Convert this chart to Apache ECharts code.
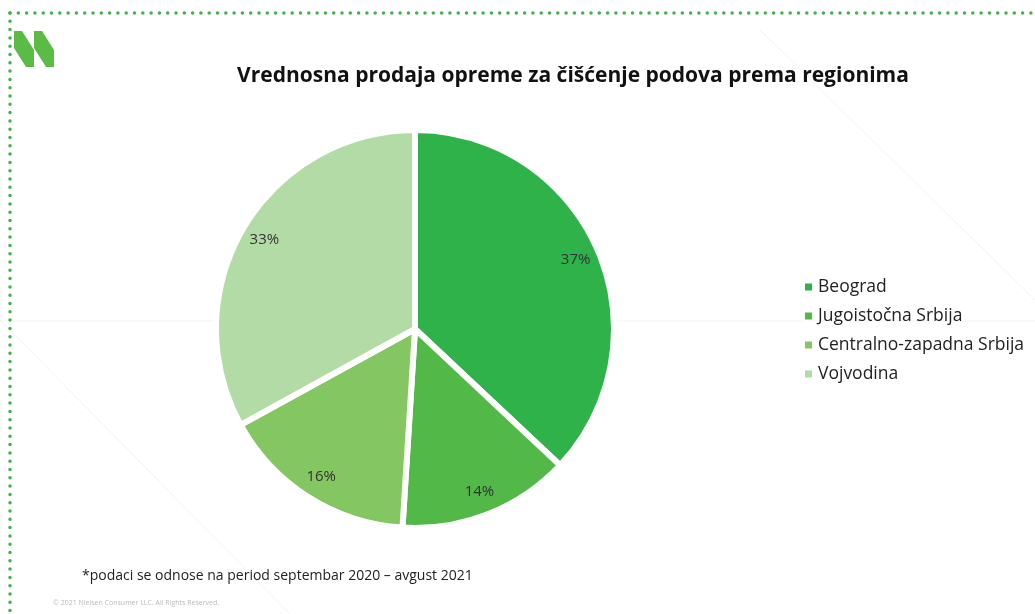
<!DOCTYPE html>
<html>
<head>
<meta charset="utf-8">
<script src="https://cdn.jsdelivr.net/npm/echarts@6/dist/echarts.min.js"></script>
<style>html,body{margin:0;padding:0;background:#fff}#c{width:1035px;height:614px}</style>
</head>
<body>
<div id="c"></div>
<script>
const categories = ['Beograd', 'Jugoistočna Srbija', 'Centralno-zapadna Srbija', 'Vojvodina'];
const values = [37, 14, 16, 33];
const colors = ['#2fb24a', '#52b848', '#84c661', '#b3dba5'];
const titleText = 'Vrednosna prodaja opreme za čišćenje podova prema regionima';
const footnote = '*podaci se odnose na period septembar 2020 – avgust 2021';
const copyright = '© 2021 Nielsen Consumer LLC. All Rights Reserved.';

const FONT = 'Open Sans';
const chart = echarts.init(document.getElementById('c'));
const data = categories.map((n, i) => ({ name: n, value: values[i], itemStyle: { color: colors[i] } }));
const labelData = categories.map((n, i) => ({ name: n, value: values[i] }));

chart.setOption({
  backgroundColor: '#ffffff',
  animation: false,
  title: {
    text: titleText, left: 568, top: 61, textAlign: 'center',
    textStyle: { fontFamily: FONT, fontWeight: 'bold', fontSize: 21, color: '#111' }
  },
  legend: {
    orient: 'vertical', left: 798, top: 273,
    icon: 'rect', itemWidth: 9, itemHeight: 9, itemGap: 11,
    textStyle: { fontFamily: FONT, fontSize: 17.5, color: '#222' },
    data: categories
  },
  graphic: [
    { type: 'line', shape: { x1: 10, y1: 13, x2: 1035, y2: 13 },
      style: { stroke: '#3db54a', lineWidth: 3.5, lineDash: [0, 8.3], lineCap: 'round' } },
    { type: 'line', shape: { x1: 10, y1: 13, x2: 10, y2: 614 },
      style: { stroke: '#3db54a', lineWidth: 3.5, lineDash: [0, 8.3], lineCap: 'round' } },
    { type: 'polygon', shape: { points: [[14, 31], [22, 31], [34, 50], [34, 67], [26, 67], [14, 48]] }, style: { fill: '#5cba47' } },
    { type: 'polygon', shape: { points: [[34, 31], [42, 31], [54, 50], [54, 67], [46, 67], [34, 48]] }, style: { fill: '#5cba47' } },
    { type: 'line', shape: { x1: 0, y1: 321, x2: 1035, y2: 321 }, style: { stroke: '#f3f3f3', lineWidth: 1 }, z: -10 },
    { type: 'line', shape: { x1: 760, y1: 30, x2: 1035, y2: 300 }, style: { stroke: '#f3f3f3', lineWidth: 1 }, z: -10 },
    { type: 'line', shape: { x1: 0, y1: 320, x2: 290, y2: 614 }, style: { stroke: '#f3f3f3', lineWidth: 1 }, z: -10 },
    { type: 'text', left: 82, top: 569, style: { text: footnote, font: '14px "' + FONT + '"', fill: '#222' } },
    { type: 'text', left: 53, top: 599, style: { text: copyright, font: '7px "' + FONT + '"', fill: '#bbb' } }
  ],
  series: [
    {
      type: 'pie', center: [415, 329], radius: [0, 199], startAngle: 90, clockwise: true,
      label: { show: false }, labelLine: { show: false }, silent: true,
      itemStyle: { borderColor: '#ffffff', borderWidth: 6 },
      data: data
    },
    {
      type: 'pie', center: [415, 329], radius: [144, 200], startAngle: 90, clockwise: true,
      silent: true, legendHoverLink: false,
      itemStyle: { color: 'rgba(0,0,0,0)', borderWidth: 0 },
      label: { show: true, position: 'inside', formatter: '{c}%', fontFamily: FONT, fontSize: 15, color: '#333' },
      labelLine: { show: false },
      data: labelData
    }
  ]
});
</script>
</body>
</html>
